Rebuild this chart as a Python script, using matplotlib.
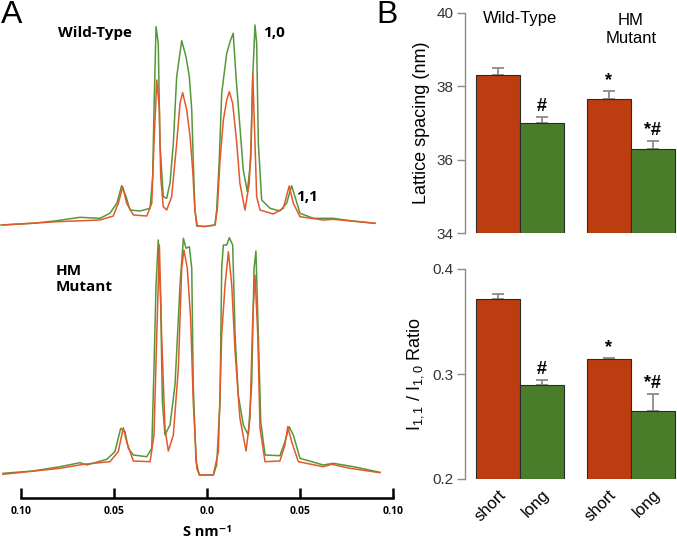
import numpy as np
import matplotlib
matplotlib.use('Agg')
import matplotlib.pyplot as plt

plt.rcParams['mathtext.fontset'] = 'custom'
plt.rcParams['mathtext.rm'] = 'Liberation Sans'
plt.rcParams['mathtext.it'] = 'Liberation Sans'

# ----------------------------------------------------------------------------
# Panel A: equatorial intensity profiles (S in nm^-1, intensity arbitrary)
# ----------------------------------------------------------------------------
wt_long_s = [-0.1108, -0.0935, -0.0806, -0.0683, -0.0575, -0.0522, -0.0484, -0.0459,
             -0.0435, -0.0414, -0.0360, -0.0306, -0.0292, -0.0285, -0.0274, -0.0262,
             -0.0253, -0.0235, -0.0217, -0.0199, -0.0181, -0.0163, -0.0136, -0.0113,
             -0.0095, -0.0082, -0.0074, -0.0065, -0.0055, -0.0011, 0.0043, 0.0052,
             0.0066, 0.0079, 0.0106, 0.0127, 0.0141, 0.0156, 0.0177, 0.0195, 0.0217,
             0.0235, 0.0246, 0.0258, 0.0267, 0.0276, 0.0294, 0.0339, 0.0392, 0.0428,
             0.0455, 0.0473, 0.0500, 0.0572, 0.0679, 0.0769, 0.0903]
wt_long_i = [3, 4.7, 7.3, 10.7, 9.7, 14.7, 25, 42.3,
             31.3, 18, 17, 19.7, 51.3, 118, 201.3, 184.7,
             84.7, 31.3, 29.7, 44.7, 84.7, 151.3, 187.3, 171.3,
             151.3, 118, 68, 18, 2, 1.5, 3, 18,
             68, 134.7, 174.7, 188, 194.7, 151.3, 101.3, 58, 36.3,
             68, 151.3, 203, 184.7, 84.7, 28, 19.7, 17, 24.7,
             42.3, 31.3, 14.7, 9.7, 9.7, 7.3, 4.7]

wt_short_s = [-0.1097, -0.0806, -0.0575, -0.0504, -0.0477, -0.0453, -0.0432, -0.0396,
              -0.0324, -0.0297, -0.0285, -0.0270, -0.0256, -0.0249, -0.0235, -0.0217,
              -0.0190, -0.0163, -0.0145, -0.0131, -0.0109, -0.0091, -0.0077, -0.0065,
              -0.0052, -0.0011, 0.0043, 0.0055, 0.0070, 0.0088, 0.0106, 0.0120, 0.0138,
              0.0160, 0.0177, 0.0204, 0.0227, 0.0237, 0.0246, 0.0258, 0.0267, 0.0285,
              0.0356, 0.0410, 0.0442, 0.0464, 0.0500, 0.0625, 0.0679, 0.0903]
wt_short_i = [3, 6.3, 8, 12, 24.7, 41.3, 24.7, 13,
              12, 24.7, 84.7, 148, 118, 51.3, 21.3, 18,
              31.3, 84.7, 124.7, 135.3, 118, 91.3, 58, 18,
              2, 1.5, 3, 18, 68, 108, 128, 136.3, 124.7,
              84.7, 44.7, 18, 44.7, 84.7, 154.7, 84.7, 31.3, 18,
              14, 19.7, 42, 24.7, 11.3, 8, 8.7, 4.7]

hm_long_s = [-0.1097, -0.0935, -0.0790, -0.0683, -0.0647, -0.0539, -0.0495, -0.0464,
             -0.0441, -0.0423, -0.0396, -0.0324, -0.0297, -0.0285, -0.0274, -0.0262,
             -0.0249, -0.0240, -0.0226, -0.0199, -0.0172, -0.0145, -0.0127, -0.0113,
             -0.0095, -0.0082, -0.0074, -0.0059, -0.0041, 0.0034, 0.0052, 0.0070,
             0.0079, 0.0088, 0.0106, 0.0120, 0.0138, 0.0151, 0.0168, 0.0195, 0.0222,
             0.0240, 0.0253, 0.0263, 0.0276, 0.0289, 0.0312, 0.0392, 0.0419, 0.0442,
             0.0464, 0.0500, 0.0625, 0.0679, 0.0787, 0.0930]
hm_long_i = [4.7, 7, 11.3, 15.3, 13, 18.7, 26.3, 49.7,
             46.3, 29.7, 23, 21.3, 29.7, 109.7, 193, 238,
             176.3, 76.3, 43, 53, 93, 193, 239.7, 229.7,
             231.3, 209.7, 93, 16.3, 3, 3, 13, 76.3,
             209.7, 233, 233, 240.3, 233, 143, 83, 53, 43,
             93, 209.7, 227, 143, 56.3, 23, 22.3, 36.3, 51.3,
             43, 19.7, 13, 14.7, 11.3, 5.7]

hm_short_s = [-0.1097, -0.0790, -0.0665, -0.0522, -0.0477, -0.0450, -0.0432, -0.0396,
              -0.0306, -0.0285, -0.0270, -0.0256, -0.0244, -0.0226, -0.0208, -0.0181,
              -0.0154, -0.0136, -0.0124, -0.0106, -0.0088, -0.0074, -0.0055, -0.0041,
              0.0034, 0.0061, 0.0079, 0.0097, 0.0115, 0.0133, 0.0151, 0.0177, 0.0210,
              0.0231, 0.0246, 0.0258, 0.0273, 0.0285, 0.0312, 0.0392, 0.0419, 0.0434,
              0.0455, 0.0491, 0.0625, 0.0670, 0.0769, 0.0930]
hm_short_i = [3.7, 9.7, 13.7, 16.3, 26.3, 50.3, 36.3, 17,
              16.3, 43, 143, 233, 143, 49.7, 27, 43,
              109.7, 209.7, 228, 209.7, 159.7, 76.3, 9.7, 3,
              3, 26.3, 143, 193, 226.3, 193, 126.3, 59.7, 27,
              59.7, 159.7, 203, 143, 49.7, 16.3, 17, 33, 51.3,
              36.3, 16.3, 11.3, 13.7, 9.7, 5.3]

s_ticks = [-0.10, -0.05, 0.0, 0.05, 0.10]
s_tick_labels = ['0.10', '0.05', '0.0', '0.05', '0.10']

# ----------------------------------------------------------------------------
# Panel B: bar data (short / long sarcomere length)
# ----------------------------------------------------------------------------
groups = ['Wild-Type', 'HM\nMutant']
conditions = ['short', 'long']
lattice_mean = [38.31, 37.01, 37.65, 36.28]
lattice_err = [0.19, 0.15, 0.22, 0.22]
ratio_mean = [0.371, 0.2895, 0.314, 0.2645]
ratio_err = [0.005, 0.0045, 0.0015, 0.016]
marks = ['', '#', '*', '*#']

ORANGE_LINE = '#e2592b'
GREEN_LINE = '#55973a'
ORANGE_BAR = '#be3d10'
GREEN_BAR = '#4a7d29'
BOLD_FONT = ['Open Sans', 'DejaVu Sans']

W, H = 677, 542
fig = plt.figure(figsize=(W / 100, H / 100), dpi=100)

def fig_rect(x0, y0, x1, y1):
    """pixel box (top-left origin) -> figure fraction rect"""
    return [x0 / W, 1 - y1 / H, (x1 - x0) / W, (y1 - y0) / H]

def px_text(x, y, s, **kw):
    fig.text(x / W, 1 - y / H, s, **kw)

# ---------------------------- panel A ---------------------------------------
axA = fig.add_axes(fig_rect(0, 0, 400, 498))
axA.set_facecolor('none')
top_off, bot_off = 270, 20

axA.plot(wt_long_s, np.array(wt_long_i) + top_off, color=GREEN_LINE, lw=1.1)
axA.plot(wt_short_s, np.array(wt_short_i) + top_off, color=ORANGE_LINE, lw=1.1)
axA.plot(hm_long_s, np.array(hm_long_i) + bot_off, color=GREEN_LINE, lw=1.1)
axA.plot(hm_short_s, np.array(hm_short_i) + bot_off, color=ORANGE_LINE, lw=1.1)

axA.set_xlim(-207 / 1860, 193 / 1860)
axA.set_ylim(0, 498)
for sp in ['top', 'right', 'left']:
    axA.spines[sp].set_visible(False)
axA.spines['bottom'].set_bounds(-0.10, 0.10)
axA.spines['bottom'].set_linewidth(1.8)
axA.set_yticks([])
axA.set_xticks(s_ticks)
axA.set_xticklabels(s_tick_labels, fontsize=7.5, fontweight='bold', family=BOLD_FONT)
axA.tick_params(axis='x', direction='in', length=7, width=1.8, pad=6)
px_text(207, 532, 'S nm\u207b\u00b9', fontsize=10.5, fontweight='bold', family=BOLD_FONT,
        ha='center', va='center')

px_text(58, 33, 'Wild-Type', fontsize=11, fontweight='bold', family=BOLD_FONT, va='center')
px_text(263, 33, '1,0', fontsize=11, fontweight='bold', family=BOLD_FONT, va='center')
px_text(296, 197, '1,1', fontsize=11, fontweight='bold', family=BOLD_FONT, va='center')
px_text(56, 279, 'HM\nMutant', fontsize=11, fontweight='bold', family=BOLD_FONT,
        va='center', linespacing=1.15)
px_text(1, 15, 'A', fontsize=23, family='Liberation Sans', va='center')
px_text(376, 15, 'B', fontsize=23, family='Liberation Sans', va='center')

# ---------------------------- panel B ---------------------------------------
xpos = np.array([0, 1, 2.52, 3.52])
bar_colors = [ORANGE_BAR, GREEN_BAR, ORANGE_BAR, GREEN_BAR]

def bar_panel(ax, means, errs, ylo, yhi, ticks, fmt, mark_pad):
    ax.bar(xpos, np.array(means) - ylo, width=1.0, bottom=ylo, color=bar_colors,
           edgecolor='#2a2a2a', linewidth=0.8, zorder=2)
    ax.errorbar(xpos, means, yerr=[np.zeros(4), errs], fmt='none', ecolor='#8a8a8a',
                elinewidth=1.3, capsize=4, capthick=1.3, zorder=1)
    for x, m, e, t in zip(xpos, means, errs, marks):
        if t:
            ax.text(x, m + e + mark_pad, t, ha='center', va='bottom', fontsize=13,
                    fontweight='bold', family='Liberation Sans')
    ax.set_xlim(-0.75, 4.07)
    ax.set_ylim(ylo, yhi)
    ax.set_yticks(ticks)
    ax.set_yticklabels([fmt.format(t) for t in ticks])
    for sp in ['top', 'right', 'bottom']:
        ax.spines[sp].set_visible(False)
    ax.spines['left'].set_color('#8a8a8a')
    ax.spines['left'].set_linewidth(1.0)
    ax.tick_params(axis='y', direction='out', length=6, width=1.0, color='#8a8a8a',
                   labelsize=11, labelcolor='#333333', pad=2)
    for lab in ax.get_yticklabels():
        lab.set_family('Liberation Sans')

axB1 = fig.add_axes(fig_rect(465, 13, 677, 233))
bar_panel(axB1, lattice_mean, lattice_err, 34, 40, [34, 36, 38, 40], '{:d}', 0.06)
axB1.set_xticks([])
axB1.set_ylabel('Lattice spacing (nm)', fontsize=13, family='Liberation Sans',
                labelpad=5)
axB1.text(0.5, 39.85, groups[0], ha='center', va='center', fontsize=12,
          family='Liberation Sans')
axB1.text(3.02, 39.55, groups[1], ha='center', va='center', fontsize=12,
          family='Liberation Sans', linespacing=1.2)

axB2 = fig.add_axes(fig_rect(465, 269, 677, 479))
bar_panel(axB2, ratio_mean, ratio_err, 0.2, 0.4, [0.2, 0.3, 0.4], '{:.1f}', 0.002)
axB2.set_xticks(xpos)
axB2.set_xticklabels(conditions * 2, rotation=45, ha='right', va='top',
                     rotation_mode='anchor', fontsize=12, family='Liberation Sans')
axB2.tick_params(axis='x', length=0, pad=6)
axB2.set_ylabel('I$_{1,1}$ / I$_{1,0}$ Ratio', fontsize=13, family='Liberation Sans',
                labelpad=5)

fig.savefig('out.png', dpi=100)
